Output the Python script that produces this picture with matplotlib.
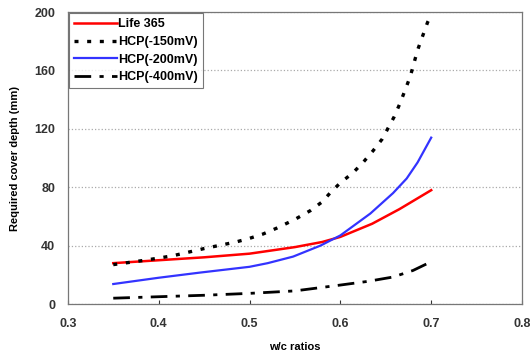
import matplotlib.pyplot as plt

plt.rcParams['font.family'] = ['Liberation Sans', 'DejaVu Sans']
plt.rcParams['font.weight'] = 'bold'

# Required cover depth (mm) vs w/c ratio
wc_life = [0.35, 0.40, 0.45, 0.50, 0.55, 0.58, 0.60, 0.635, 0.665, 0.70]
life365 = [28, 30, 32, 34.5, 39, 42.5, 46, 55, 65, 78]

wc_150 = [0.35, 0.385, 0.415, 0.45, 0.485, 0.50, 0.515, 0.53, 0.55, 0.567, 0.58,
          0.59, 0.60, 0.614, 0.625, 0.636, 0.646, 0.659, 0.666, 0.677, 0.685, 0.696, 0.70]
hcp_150 = [27, 30, 33, 38, 42.5, 45, 48, 52, 58, 64, 70,
           77, 83, 90, 97, 105, 113, 128, 138, 156, 174, 193, 198]

wc_200 = [0.35, 0.40, 0.445, 0.50, 0.52, 0.548, 0.578, 0.60, 0.633, 0.658, 0.673, 0.685, 0.70]
hcp_200 = [13.7, 18, 21.5, 25.5, 28, 32.5, 40, 47, 62, 76, 86, 97, 114]

wc_400 = [0.35, 0.40, 0.45, 0.50, 0.55, 0.60, 0.63, 0.658, 0.68, 0.70]
hcp_400 = [4, 5, 6, 7.3, 9, 13, 15.5, 18.5, 23, 29]

fig = plt.figure(figsize=(5.3, 3.56), dpi=100)
ax = fig.add_axes([0.128, 0.146, 0.857, 0.82])

ax.plot(wc_life, life365, color='#ff0000', lw=1.8, label='Life 365')
ax.plot(wc_150, hcp_150, color='black', lw=2.4, linestyle=(0, (1.2, 2.6)), label='HCP(-150mV)')
ax.plot(wc_200, hcp_200, color='#3333ff', lw=1.6, label='HCP(-200mV)')
ax.plot(wc_400, hcp_400, color='black', lw=2.0, linestyle=(0, (6, 3, 1.5, 3)), label='HCP(-400mV)')

ax.set_xlim(0.3, 0.8)
ax.set_ylim(0, 200)
ax.set_xticks([0.3, 0.4, 0.5, 0.6, 0.7, 0.8])
ax.set_yticks([0, 40, 80, 120, 160, 200])
ax.set_xticklabels(['0.3', '0.4', '0.5', '0.6', '0.7', '0.8'])
ax.yaxis.grid(True, color='#aaaaaa', linestyle=':', lw=0.9)
ax.tick_params(axis='both', labelsize=9, colors='#333333', length=3, width=0.8)
ax.tick_params(axis='y', length=0, pad=9)
ax.tick_params(axis='x', direction='in', pad=10)
for s in ax.spines.values():
    s.set_color('#777777')
    s.set_linewidth(0.9)

ax.set_xlabel('w/c ratios', fontsize=8, fontweight='bold', labelpad=9)
ax.set_ylabel('Required cover depth (mm)', fontsize=8, fontweight='bold', labelpad=10)

leg = ax.legend(loc='upper left', fontsize=9, handlelength=3.4, handletextpad=0.1,
                borderaxespad=0.1, borderpad=0.4, labelspacing=0.45, frameon=True,
                fancybox=False)
leg.get_frame().set_edgecolor('#555555')
leg.get_frame().set_linewidth(0.8)

fig.savefig('out.png', dpi=100)
